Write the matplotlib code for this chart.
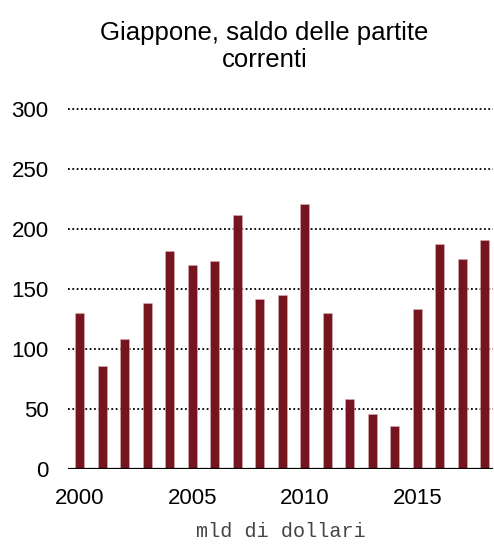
import matplotlib
matplotlib.use("Agg")
import matplotlib.pyplot as plt

# Saldo delle partite correnti del Giappone, mld di dollari
anni = list(range(2000, 2019))
saldo = [130, 86, 109, 139, 182, 170, 174, 212, 142, 145, 221, 130,
         59, 46, 36, 134, 188, 175, 191]
tick_anni = [2000, 2005, 2010, 2015]
tick_y = [0, 50, 100, 150, 200, 250, 300]

BORDEAUX = "#76151F"

plt.rcParams["font.family"] = ["Liberation Sans", "DejaVu Sans"]

fig = plt.figure(figsize=(4.94, 5.44), dpi=100)
ax = fig.add_axes([0.138, 0.137, 0.860, 0.684])

ax.bar(anni, saldo, width=0.4, color=BORDEAUX, edgecolor="#d9b3b8",
       linewidth=0.4, zorder=3)

ax.set_xlim(1999.48, 2018.37)
ax.set_ylim(0, 310)
ax.set_yticks(tick_y)
ax.set_xticks(tick_anni)
ax.tick_params(length=0, labelsize=16)
ax.tick_params(axis="x", pad=13)
ax.tick_params(axis="y", pad=14)
for lab in ax.get_xticklabels() + ax.get_yticklabels():
    lab.set_fontstretch("condensed")

for y in tick_y[1:]:
    ax.axhline(y, color="black", lw=1.3, ls=(0, (1, 1.4)), zorder=1)
ax.axhline(0, color="black", lw=1.6, zorder=4)

for s in ax.spines.values():
    s.set_visible(False)

ax.set_xlabel("mld di dollari", family="Liberation Mono", fontsize=14.5,
              color="#444444", labelpad=10)
fig.suptitle("Giappone, saldo delle partite\ncorrenti", fontsize=18.5,
             x=0.535, y=0.962, linespacing=1.2)

fig.savefig("out.png", dpi=100)
